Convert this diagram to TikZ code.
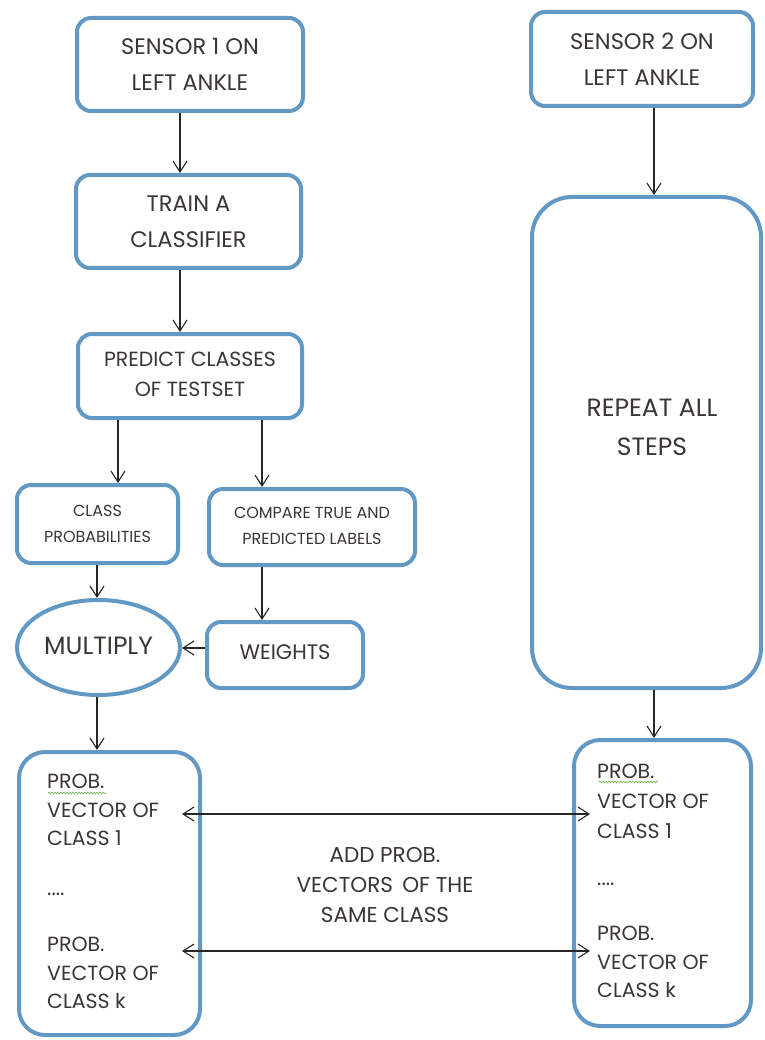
\documentclass[tikz,border=0pt]{standalone}
\usepackage{fontspec}
\setmainfont{Poppins}
\usetikzlibrary{arrows.meta,shapes.geometric,decorations.pathmorphing}
\definecolor{bx}{RGB}{98,152,196}
\definecolor{tx}{RGB}{58,54,50}
\definecolor{sq}{RGB}{120,185,90}
\begin{document}
\begin{tikzpicture}[x=1pt,y=-1pt,
  box/.style={draw=bx,line width=4pt,rounded corners=14pt,fill=white,inner sep=0pt,align=center,text=tx},
  oval/.style={draw=bx,line width=4pt,ellipse,fill=white,inner sep=0pt,text=tx},
  lbl/.style={inner sep=0pt,text=tx},
  arr/.style={draw=black!85,line width=1.1pt,-{Straight Barb[length=11pt,width=14pt,line width=1.1pt]}},
  darr/.style={draw=black!85,line width=1.1pt,{Straight Barb[length=11pt,width=14pt,line width=1.1pt]}-{Straight Barb[length=11pt,width=14pt,line width=1.1pt]}},
  squig/.style={draw=sq,line width=0.7pt,decorate,decoration={snake,amplitude=0.8pt,segment length=3pt}},
  big/.style={font=\fontsize{22.5}{36}\selectfont},
  small/.style={font=\fontsize{16}{26}\selectfont},
  vec/.style={font=\fontsize{20.5}{28.5}\selectfont,align=left}]
\useasboundingbox[fill=white] (0,0) rectangle (764,1040);

% left column
\node[box,big,minimum width=226pt,minimum height=93pt] (s1) at (190,64.5) {SENSOR 1 ON\\LEFT ANKLE};
\node[box,big,minimum width=225pt,minimum height=93pt] (tr) at (188.5,221.5) {TRAIN A\\CLASSIFIER};
\node[box,font=\fontsize{20.5}{30}\selectfont,minimum width=224pt,minimum height=84pt] (pr) at (190,376) {\raisebox{3pt}{PREDICT CLASSES}\\\raisebox{3pt}{OF TESTSET}};
\node[box,small,minimum width=161pt,minimum height=78pt] (cp) at (97.5,524) {CLASS\\PROBABILITIES};
\node[box,small,minimum width=206pt,minimum height=76pt] (cmp) at (312,527) {\raisebox{3pt}{COMPARE TRUE AND}\\\raisebox{3pt}{PREDICTED LABELS}};
\node[oval,font=\fontsize{25}{28}\selectfont,minimum width=163pt,minimum height=95pt] (mul) at (98.5,647.5) {\raisebox{3pt}{MULTIPLY}};
\node[box,font=\fontsize{21}{28}\selectfont,minimum width=156pt,minimum height=66pt] (wt) at (285,655) {\raisebox{6pt}{WEIGHTS}};
\node[box,rounded corners=26pt,minimum width=181pt,minimum height=283pt] (bl) at (109.5,893.5) {};

% right column
\node[box,big,minimum width=222pt,minimum height=94pt] (s2) at (642,59) {SENSOR 2 ON\\LEFT ANKLE};
\node[box,rounded corners=40pt,minimum width=229pt,minimum height=491pt] (rp) at (646.5,442.5) {};
\node[lbl,align=center,font=\fontsize{25}{39}\selectfont] (rpt) at (652,427) {REPEAT ALL\\STEPS};
\node[box,rounded corners=26pt,minimum width=177pt,minimum height=286pt] (br) at (662.5,883) {};

% texts in the probability-vector boxes
\node[lbl,vec,anchor=west] (bl1) at (47,810) {PROB.\\VECTOR OF\\CLASS 1};
\node[lbl,vec,anchor=west] (bld) at (47,894) {....};
\node[lbl,vec,anchor=west] (bl2) at (47,973) {PROB.\\VECTOR OF\\CLASS k};
\node[lbl,vec,anchor=west,font=\fontsize{20.5}{30}\selectfont] (br1) at (597,801) {PROB.\\VECTOR OF\\CLASS 1};
\node[lbl,vec,anchor=west] (brd) at (597,884) {....};
\node[lbl,vec,anchor=west] (br2) at (597,962) {PROB.\\VECTOR OF\\CLASS k};
\draw[squig] (48,793) -- (106,793);
\draw[squig] (599,782) -- (658,782);

% middle label
\node[lbl,align=center,font=\fontsize{21.5}{30}\selectfont] (add) at (385,885) {ADD PROB.\\VECTORS \,OF THE\\SAME CLASS};

% helper coordinates for connector positions
\coordinate (xa) at (180,0);
\coordinate (xb) at (118,0);
\coordinate (xc) at (262,0);
\coordinate (xd) at (97,0);
\coordinate (xe) at (654,0);
\coordinate (ya) at (0,648);
\coordinate (l1) at (182,814);
\coordinate (r1) at (590,814);
\coordinate (l2) at (182,951);
\coordinate (r2) at (590,951);

% connectors
\draw[arr] (s1.south -| xa) -- (tr.north -| xa);
\draw[arr] (tr.south -| xa) -- (pr.north -| xa);
\draw[arr] (pr.south -| xb) -- (cp.north -| xb);
\draw[arr] (pr.south -| xc) -- (cmp.north -| xc);
\draw[arr] (cp.south -| xd) -- (mul.north -| xd);
\draw[arr] (cmp.south -| xc) -- (wt.north -| xc);
\draw[arr] (wt.west |- ya) -- (mul.east |- ya);
\draw[arr] (mul.south -| xd) -- (bl.north -| xd);
\draw[arr] (s2.south -| xe) -- (rp.north -| xe);
\draw[arr] (rp.south -| xe) -- (br.north -| xe);
\draw[darr] (l1) -- (r1);
\draw[darr] (l2) -- (r2);
\end{tikzpicture}
\end{document}
